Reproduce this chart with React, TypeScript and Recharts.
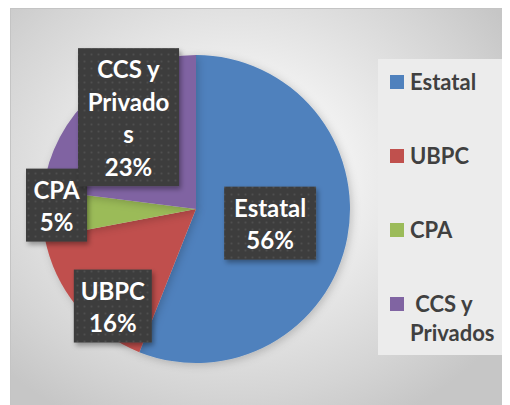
import { Legend, Pie, PieChart, Cell } from 'recharts'

const categories = ['Estatal', 'UBPC', 'CPA', 'CCS y Privados']
const values = [56, 16, 5, 23]
// data label text, wrapped the way the original wraps it
const labelLines = [['Estatal'], ['UBPC'], ['CPA'], ['CCS y', 'Privado', 's']]
const legendLines = [['Estatal'], ['UBPC'], ['CPA'], [' CCS y', 'Privados']]

const COLORS = ['#4f81bd', '#c0504d', '#9bbb59', '#8064a2']
const FONT = 'Lato, "Open Sans", sans-serif'
const RAD = Math.PI / 180

// where each data label box sits: fraction of radius, angle nudge, box width
const LABEL_POS = [
  { f: 0.49, da: 0, w: 92 },
  { f: 0.83, da: 9.8, w: 78 },
  { f: 0.906, da: -3.4, w: 61 },
  { f: 0.74, da: -5.1, w: 101 },
]

const data = categories.map((name, i) => ({ name, value: values[i] }))
const total = values.reduce((a, b) => a + b, 0)

function DataLabel(props: any) {
  const { cx, cy, midAngle, outerRadius, index } = props
  const pos = LABEL_POS[index]
  const ang = (midAngle + pos.da) * RAD
  const r = outerRadius * pos.f
  const x = cx + r * Math.cos(-ang)
  const y = cy + r * Math.sin(-ang)
  const lines = [...labelLines[index], `${Math.round((values[index] / total) * 100)}%`]
  const lh = 32.5
  const h = lines.length * lh + 8
  const top = y - h / 2
  return (
    <g>
      <rect x={x - pos.w / 2} y={top} width={pos.w} height={h} fill="url(#dots)" filter="url(#boxShadow)" />
      {lines.map((t, k) => (
        <text
          key={k}
          x={x}
          y={top + 30 + k * lh}
          textAnchor="middle"
          fill="#ffffff"
          fontFamily={FONT}
          fontWeight={700}
          fontSize={24}
        >
          {t}
        </text>
      ))}
    </g>
  )
}

function LegendBox() {
  return (
    <div
      style={{
        width: 129,
        height: 296,
        background: '#ececec',
        position: 'relative',
        fontFamily: FONT,
        fontWeight: 700,
        fontSize: 22,
        color: '#404040',
      }}
    >
      {categories.map((c, i) => (
        <div key={c} style={{ position: 'absolute', left: 12, top: 16 + i * 74 }}>
          <div style={{ position: 'absolute', left: 0, top: 0, width: 14, height: 14, background: COLORS[i] }} />
          {legendLines[i].map((t, k) => (
            <div
              key={k}
              style={{ position: 'absolute', left: 20, top: -8 + k * 29, whiteSpace: 'pre', lineHeight: '29px' }}
            >
              {t}
            </div>
          ))}
        </div>
      ))}
    </div>
  )
}

export default function App() {
  return (
    <div
      style={{
        marginLeft: 2,
        width: 500,
        height: 397,
        borderTop: '1px solid #c4c4c4',
        borderLeft: '1px solid #c4c4c4',
        boxSizing: 'border-box',
        background: 'radial-gradient(ellipse 65% 70% at 45% 42%, #ffffff 0%, #f4f4f4 30%, #d4d4d4 80%, #c6c6c6 100%)',
      }}
    >
      <PieChart width={499} height={396} margin={{ top: 0, right: 0, bottom: 0, left: 0 }}>
        <defs>
          <pattern id="dots" width="7" height="7" patternUnits="userSpaceOnUse">
            <rect width="7" height="7" fill="#3d3d3d" />
            <circle cx="3.5" cy="3.5" r="1" fill="#505050" />
          </pattern>
          <filter id="boxShadow" x="-20%" y="-20%" width="150%" height="150%">
            <feDropShadow dx="2" dy="3" stdDeviation="2.5" floodColor="#000" floodOpacity="0.35" />
          </filter>
          <filter id="pieShadow" x="-10%" y="-10%" width="125%" height="125%">
            <feDropShadow dx="2" dy="2" stdDeviation="4" floodColor="#000" floodOpacity="0.2" />
          </filter>
        </defs>
        <Pie
          data={data}
          dataKey="value"
          nameKey="name"
          cx={185}
          cy={200}
          outerRadius={154}
          startAngle={90}
          endAngle={-270}
          stroke="none"
          label={DataLabel}
          labelLine={false}
          isAnimationActive={false}
          style={{ filter: 'url(#pieShadow)' }}
        >
          {data.map((d, i) => (
            <Cell key={d.name} fill={COLORS[i]} />
          ))}
        </Pie>
        <Legend
          content={<LegendBox />}
          layout="vertical"
          align="right"
          verticalAlign="top"
          wrapperStyle={{ position: 'absolute', left: 367, top: 50, width: 129, height: 296 }}
        />
      </PieChart>
    </div>
  )
}
